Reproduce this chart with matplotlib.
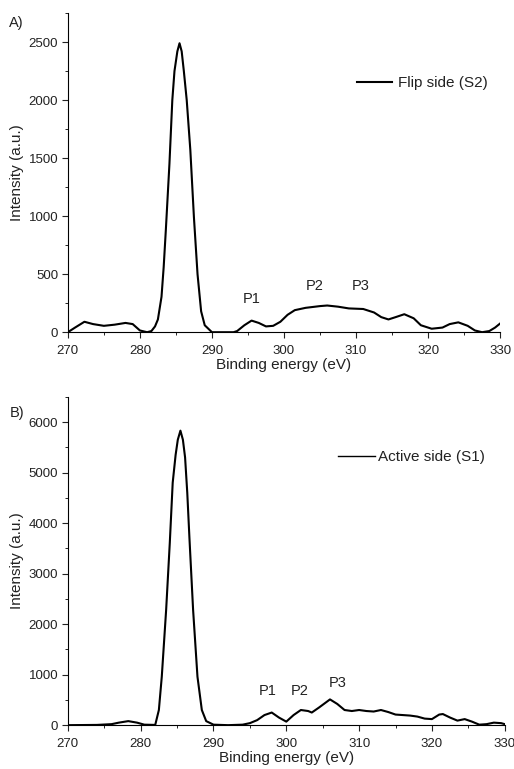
import matplotlib
matplotlib.use("Agg")
import matplotlib.pyplot as plt
from matplotlib.ticker import MultipleLocator

plt.rcParams['font.family'] = ['Liberation Sans', 'DejaVu Sans']

# Panel A - flip side (S2)
energy_a = [270, 271, 272.3, 273.5, 275, 276.5, 278, 279, 280, 281, 281.6, 282.1, 282.5,
            283, 283.3, 283.6, 284.1, 284.5, 284.8, 285.2, 285.5, 285.8, 286.1, 286.5,
            287, 287.5, 288, 288.5, 289, 290, 291, 292, 293, 293.5, 294.5, 295.5, 296.5,
            297.5, 298.5, 299.5, 300.5, 301.5, 303, 305, 306, 307.5, 309, 311, 312.5,
            313.5, 314.5, 315.5, 316.7, 318, 319, 320.5, 322, 323, 324.2, 325.5, 326.5,
            327.5, 328.5, 329.3, 330]
intensity_a = [0, 40, 90, 70, 55, 65, 80, 70, 15, 0, 10, 50, 110,
               305, 560, 880, 1450, 2000, 2250, 2420, 2490, 2420, 2250, 2000,
               1570, 990, 500, 180, 60, 0, 0, 0, 0, 10, 60, 100, 80,
               50, 55, 90, 150, 190, 210, 225, 230, 220, 205, 200, 170,
               130, 110, 130, 155, 120, 60, 30, 40, 70, 85, 55, 15,
               0, 10, 40, 75]

# Panel B - active side (S1)
energy_b = [270, 274, 276, 277, 278.3, 279.5, 280.5, 282, 282.5, 282.9, 283.5, 284, 284.4,
            284.8, 285.1, 285.46, 285.8, 286.1, 286.4, 286.7, 287.2, 287.8, 288.4, 289,
            290, 292, 294, 295, 296, 297, 298, 299, 300, 301, 302, 303, 303.5, 304.5,
            306, 307, 308, 309, 310, 311, 312, 313, 314, 315, 316, 317, 318, 319, 320,
            321, 321.5, 322.5, 323.5, 324.5, 325.5, 326.5, 327.5, 328.5, 329.5, 330]
intensity_b = [0, 5, 20, 50, 80, 50, 10, 5, 300, 960, 2285, 3610, 4800,
               5350, 5650, 5830, 5650, 5300, 4600, 3700, 2285, 960, 300, 80,
               10, 0, 10, 40, 100, 200, 250, 150, 70, 200, 300, 280, 250, 350,
               510, 420, 300, 280, 300, 280, 270, 300, 260, 210, 200, 190, 170, 130, 120,
               210, 220, 150, 90, 120, 70, 10, 20, 50, 40, 20]

labels_a = [("P1", 295.5, 230), ("P2", 304.2, 340), ("P3", 310.7, 340)]
labels_b = [("P1", 297.5, 530), ("P2", 301.9, 530), ("P3", 307.1, 700)]

txt = '#222222'
fig = plt.figure(figsize=(5.14, 7.69), dpi=100)
ax_a = fig.add_axes([0.132, 0.568, 0.841, 0.415])
ax_b = fig.add_axes([0.132, 0.057, 0.850, 0.427])


def style(ax, ymax, ymajor, yminor):
    ax.spines['top'].set_visible(False)
    ax.spines['right'].set_visible(False)
    ax.set_xlim(270, 330)
    ax.set_ylim(0, ymax)
    ax.xaxis.set_major_locator(MultipleLocator(10))
    ax.xaxis.set_minor_locator(MultipleLocator(5))
    ax.yaxis.set_major_locator(MultipleLocator(ymajor))
    ax.yaxis.set_minor_locator(MultipleLocator(yminor))
    ax.tick_params(which='major', length=4, labelsize=9.5, colors=txt, pad=3)
    ax.tick_params(axis='x', pad=5)
    ax.tick_params(which='minor', length=2.5)
    ax.set_xlabel('Binding energy (eV)', fontsize=11, color=txt, labelpad=1)
    ax.set_ylabel('Intensity (a.u.)', fontsize=11, color=txt, labelpad=3)


ax_a.plot(energy_a, intensity_a, color='black', lw=1.5, label='Flip side (S2)')
style(ax_a, 2750, 500, 250)
ax_a.legend(loc='center left', bbox_to_anchor=(0.669, 0.78), frameon=False,
            fontsize=11, handlelength=2.3, handletextpad=0.35, borderpad=0,
            borderaxespad=0, labelcolor=txt)
for name, x, y in labels_a:
    ax_a.text(x, y, name, ha='center', va='bottom', fontsize=10.5, color=txt)
fig.text(0.018, 0.965, 'A)', fontsize=10.5, color=txt)

ax_b.plot(energy_b, intensity_b, color='black', lw=1.5, label='Active side (S1)')
style(ax_b, 6500, 1000, 500)
ax_b.legend(loc='center left', bbox_to_anchor=(0.618, 0.817), frameon=False,
            fontsize=11, handlelength=2.4, handletextpad=0.2, borderpad=0,
            borderaxespad=0, labelcolor=txt)
ax_b.get_legend().get_lines()[0].set_linewidth(1.0)
for name, x, y in labels_b:
    ax_b.text(x, y, name, ha='center', va='bottom', fontsize=10.5, color=txt)
fig.text(0.018, 0.458, 'B)', fontsize=10.5, color=txt)

fig.savefig('out.png', dpi=100)
